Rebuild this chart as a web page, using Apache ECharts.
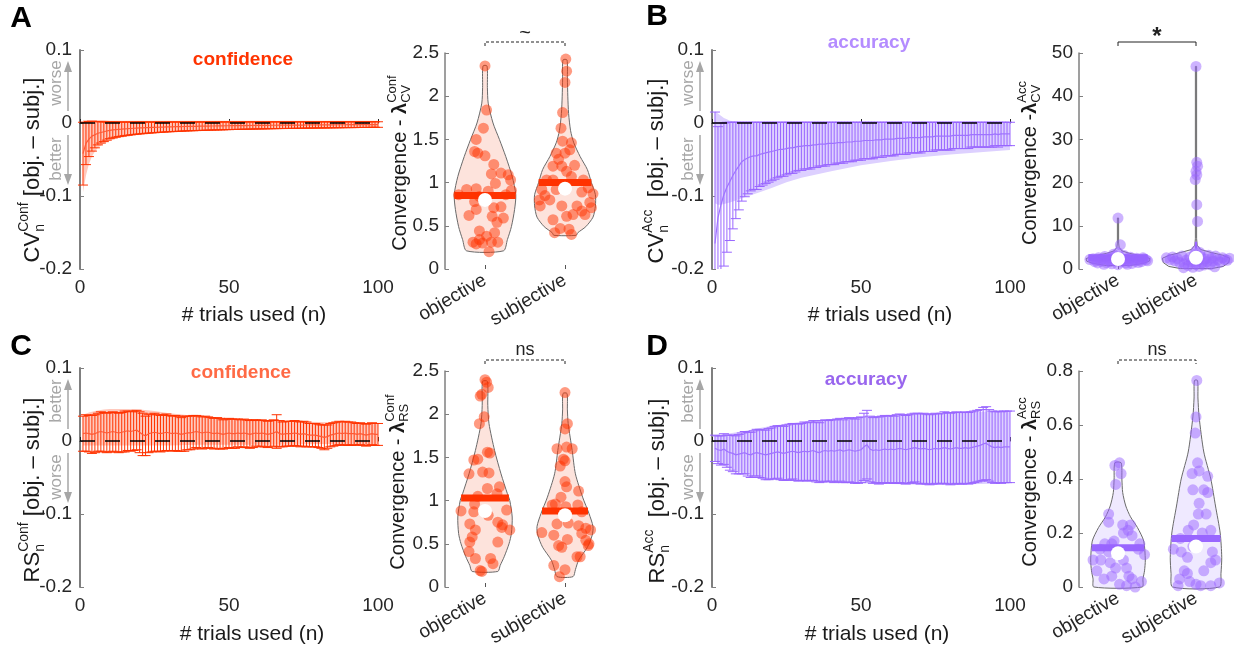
<!DOCTYPE html>
<html><head><meta charset="utf-8">
<script src="https://cdn.jsdelivr.net/npm/echarts@6/dist/echarts.min.js"></script>
<style>html,body{margin:0;padding:0;background:#fff}#c{width:1234px;height:652px}</style>
</head><body><div id="c"></div>
<script>
// ---------------- DATA ----------------
const trialN = Array.from({length: 100}, (_, i) => i + 1);
const lineXTicks = [0, 50, 100];
const violinCats = ['objective', 'subjective'];
const panelLetters = ['A', 'B', 'C', 'D'];
const panelTitles = ['confidence', 'accuracy', 'confidence', 'accuracy'];
const sigTexts = ['~', '*', 'ns', 'ns'];
const sigDashed = [true, false, true, true];

// Panel A : CV confidence (mean and error half-length per n)
const A_mean = [-0.042,-0.028,-0.022,-0.018,-0.016,-0.014,-0.013,-0.012,-0.011,-0.010,
-0.0095,-0.009,-0.0087,-0.0084,-0.008,-0.0078,-0.0075,-0.0072,-0.0070,-0.0068,
-0.0066,-0.0064,-0.0063,-0.0061,-0.0060,-0.0058,-0.0057,-0.0056,-0.0054,-0.0053,
-0.0052,-0.0051,-0.0050,-0.0049,-0.0048,-0.0047,-0.0046,-0.0046,-0.0045,-0.0044,
-0.0043,-0.0043,-0.0042,-0.0041,-0.0041,-0.0040,-0.0040,-0.0039,-0.0038,-0.0038,
-0.0037,-0.0037,-0.0036,-0.0036,-0.0035,-0.0035,-0.0034,-0.0034,-0.0033,-0.0033,
-0.0033,-0.0032,-0.0032,-0.0031,-0.0031,-0.0031,-0.0030,-0.0030,-0.0030,-0.0029,
-0.0029,-0.0029,-0.0028,-0.0028,-0.0028,-0.0027,-0.0027,-0.0027,-0.0026,-0.0026,
-0.0026,-0.0026,-0.0025,-0.0025,-0.0025,-0.0024,-0.0024,-0.0024,-0.0024,-0.0023,
-0.0023,-0.0023,-0.0023,-0.0022,-0.0022,-0.0022,-0.0022,-0.0021,-0.0021,-0.0021];
const A_err = [0.043,0.029,0.024,0.0205,0.018,0.016,0.0145,0.0135,0.0125,0.0115,
0.011,0.0105,0.010,0.0097,0.0094,0.0091,0.0088,0.0086,0.0084,0.0082,
0.0080,0.0078,0.0076,0.0075,0.0073,0.0072,0.0070,0.0069,0.0068,0.0067,
0.0066,0.0065,0.0064,0.0063,0.0062,0.0061,0.0060,0.0060,0.0059,0.0058,
0.0058,0.0057,0.0056,0.0056,0.0055,0.0055,0.0054,0.0054,0.0053,0.0053,
0.0052,0.0052,0.0051,0.0051,0.0050,0.0050,0.0050,0.0049,0.0049,0.0048,
0.0048,0.0048,0.0047,0.0047,0.0047,0.0046,0.0046,0.0046,0.0045,0.0045,
0.0045,0.0045,0.0044,0.0044,0.0044,0.0043,0.0043,0.0043,0.0043,0.0042,
0.0042,0.0042,0.0042,0.0041,0.0041,0.0041,0.0041,0.0040,0.0040,0.0040,
0.0040,0.0040,0.0039,0.0039,0.0039,0.0039,0.0039,0.0038,0.0038,0.0038];
const A_bandN  = [1,2,3,4,5,6,8,10,13,16,20,25,30,40,50,60,70,80,90,100];
const A_bandLo = [-0.095,-0.072,-0.056,-0.046,-0.039,-0.034,-0.028,-0.024,-0.020,-0.017,-0.015,-0.013,-0.012,-0.010,-0.009,-0.0085,-0.008,-0.0075,-0.007,-0.007];
const A_bandHi = [0.004,0.004,0.004,0.004,0.004,0.004,0.004,0.003,0.003,0.003,0.003,0.003,0.003,0.003,0.003,0.003,0.003,0.003,0.003,0.003];

// Panel B : CV accuracy
const B_mean = [-0.165,-0.130,-0.112,-0.098,-0.088,-0.080,-0.072,-0.065,-0.059,-0.053,
-0.050,-0.048,-0.046,-0.045,-0.045,-0.043,-0.042,-0.041,-0.040,-0.039,
-0.038,-0.037,-0.036,-0.036,-0.035,-0.034,-0.034,-0.033,-0.032,-0.032,
-0.031,-0.031,-0.031,-0.030,-0.030,-0.029,-0.029,-0.029,-0.028,-0.028,
-0.028,-0.027,-0.027,-0.027,-0.026,-0.026,-0.026,-0.025,-0.025,-0.025,
-0.024,-0.024,-0.024,-0.024,-0.023,-0.023,-0.023,-0.022,-0.022,-0.022,
-0.022,-0.021,-0.021,-0.021,-0.021,-0.020,-0.020,-0.020,-0.020,-0.020,
-0.019,-0.019,-0.019,-0.019,-0.018,-0.018,-0.018,-0.018,-0.018,-0.018,
-0.017,-0.017,-0.017,-0.017,-0.017,-0.017,-0.016,-0.016,-0.016,-0.016,
-0.016,-0.016,-0.016,-0.016,-0.015,-0.016,-0.015,-0.015,-0.015,-0.015];
const B_err = [0.180,0.125,0.112,0.098,0.089,0.081,0.073,0.066,0.060,0.054,
0.051,0.049,0.047,0.046,0.046,0.044,0.043,0.042,0.041,0.040,
0.039,0.038,0.037,0.037,0.036,0.035,0.035,0.034,0.033,0.033,
0.032,0.032,0.032,0.031,0.031,0.030,0.030,0.030,0.029,0.029,
0.029,0.028,0.028,0.028,0.027,0.027,0.027,0.026,0.026,0.026,
0.025,0.025,0.025,0.025,0.024,0.024,0.024,0.023,0.023,0.023,
0.023,0.022,0.022,0.022,0.022,0.021,0.021,0.021,0.021,0.021,
0.020,0.020,0.020,0.020,0.019,0.019,0.019,0.019,0.019,0.019,
0.018,0.018,0.018,0.018,0.018,0.018,0.017,0.017,0.017,0.017,
0.017,0.017,0.017,0.017,0.016,0.017,0.016,0.016,0.016,0.016];
const B_bandN  = [1,2,3,4,5,6,8,10,13,16,20,25,30,40,50,60,70,80,90,100];
const B_bandLo = [-0.110,-0.112,-0.112,-0.111,-0.110,-0.109,-0.106,-0.103,-0.099,-0.095,-0.089,-0.081,-0.075,-0.066,-0.058,-0.052,-0.047,-0.043,-0.040,-0.037];
const B_bandHi = [0.016,0.013,0.010,0.007,0.005,0.003,0.002,0.001,0.001,0.001,0.001,0.001,0.001,0.001,0.001,0.001,0.001,0.001,0.001,0.001];

// Panel C : RS confidence
const C_mean = [0.010,0.011,0.010,0.009,0.010,0.012,0.013,0.012,0.011,0.012,
0.013,0.012,0.011,0.012,0.013,0.014,0.013,0.014,0.015,0.012,
0.009,0.007,0.010,0.011,0.012,0.011,0.010,0.011,0.012,0.011,
0.010,0.011,0.010,0.009,0.010,0.011,0.011,0.012,0.013,0.012,
0.011,0.012,0.012,0.011,0.010,0.011,0.010,0.009,0.010,0.011,
0.010,0.010,0.011,0.010,0.011,0.010,0.009,0.010,0.011,0.010,
0.011,0.010,0.009,0.010,0.011,0.013,0.010,0.009,0.010,0.010,
0.010,0.011,0.010,0.009,0.010,0.009,0.008,0.008,0.008,0.007,
0.006,0.005,0.006,0.008,0.009,0.010,0.011,0.010,0.011,0.010,
0.010,0.010,0.009,0.010,0.009,0.008,0.009,0.010,0.009,0.009];
const C_err = [0.024,0.025,0.025,0.026,0.026,0.026,0.027,0.027,0.027,0.027,
0.027,0.027,0.027,0.027,0.028,0.027,0.027,0.027,0.027,0.028,
0.029,0.027,0.026,0.026,0.026,0.025,0.025,0.025,0.025,0.024,
0.024,0.024,0.024,0.023,0.024,0.023,0.023,0.023,0.022,0.022,
0.022,0.022,0.021,0.021,0.021,0.021,0.021,0.020,0.020,0.020,
0.020,0.020,0.019,0.019,0.019,0.019,0.019,0.019,0.018,0.018,
0.018,0.018,0.018,0.018,0.018,0.023,0.018,0.017,0.017,0.017,
0.017,0.017,0.017,0.017,0.017,0.017,0.016,0.016,0.016,0.016,
0.016,0.017,0.016,0.016,0.016,0.016,0.016,0.016,0.016,0.016,
0.016,0.015,0.015,0.015,0.015,0.015,0.015,0.015,0.015,0.015];
const C_bandN  = [1,3,5,8,10,13,16,20,25,30,40,50,60,70,80,90,100];
const C_bandHi = [0.036,0.039,0.041,0.043,0.044,0.044,0.044,0.043,0.041,0.038,0.034,0.031,0.029,0.027,0.026,0.025,0.024];
const C_bandLo = [-0.006,-0.006,-0.006,-0.006,-0.006,-0.006,-0.006,-0.006,-0.006,-0.006,-0.005,-0.005,-0.005,-0.005,-0.004,-0.004,-0.004];

// Panel D : RS accuracy
const D_mean = [-0.010,-0.012,-0.013,-0.011,-0.014,-0.016,-0.017,-0.019,-0.018,-0.017,
-0.016,-0.018,-0.019,-0.017,-0.016,-0.017,-0.018,-0.019,-0.018,-0.017,
-0.016,-0.015,-0.016,-0.017,-0.016,-0.015,-0.014,-0.015,-0.016,-0.015,
-0.014,-0.015,-0.014,-0.013,-0.015,-0.016,-0.014,-0.013,-0.014,-0.013,
-0.014,-0.013,-0.012,-0.014,-0.013,-0.012,-0.013,-0.014,-0.013,-0.012,
-0.008,-0.005,-0.011,-0.013,-0.012,-0.013,-0.012,-0.011,-0.012,-0.011,
-0.012,-0.011,-0.010,-0.011,-0.012,-0.011,-0.010,-0.009,-0.010,-0.011,
-0.010,-0.011,-0.012,-0.011,-0.010,-0.011,-0.010,-0.009,-0.010,-0.011,
-0.010,-0.009,-0.010,-0.010,-0.009,-0.010,-0.009,-0.008,-0.007,-0.006,
-0.004,-0.003,-0.006,-0.008,-0.009,-0.008,-0.009,-0.008,-0.008,-0.008];
const D_err = [0.018,0.019,0.020,0.021,0.022,0.024,0.025,0.026,0.027,0.028,
0.029,0.030,0.031,0.031,0.032,0.033,0.033,0.034,0.035,0.035,
0.036,0.036,0.037,0.037,0.038,0.038,0.038,0.039,0.039,0.039,
0.040,0.040,0.040,0.041,0.041,0.041,0.042,0.042,0.042,0.042,
0.043,0.043,0.043,0.043,0.044,0.044,0.044,0.044,0.045,0.045,
0.046,0.047,0.045,0.045,0.045,0.046,0.046,0.046,0.046,0.046,
0.046,0.047,0.047,0.047,0.047,0.047,0.047,0.047,0.048,0.048,
0.048,0.048,0.048,0.048,0.048,0.048,0.048,0.049,0.049,0.049,
0.049,0.049,0.049,0.049,0.049,0.049,0.049,0.049,0.049,0.049,
0.050,0.050,0.049,0.049,0.049,0.049,0.049,0.049,0.049,0.049];
const D_bandN  = [1,5,10,20,30,40,50,60,70,80,90,100];
const D_bandHi = [0.008,0.010,0.013,0.021,0.026,0.030,0.033,0.035,0.037,0.038,0.040,0.041];
const D_bandLo = [-0.028,-0.036,-0.044,-0.052,-0.055,-0.057,-0.058,-0.059,-0.060,-0.060,-0.059,-0.058];

// Violin data: points [jitter, value], outline [value, half-width], mean bar, median dot
const A_objPts = [[0,2.35],[0.02,1.84],[-0.02,1.63],[-0.11,1.50],[-0.13,1.36],[-0.09,1.34],[0,1.31],[0.11,1.21],[0.2,1.11],[0.29,1.09],[0.32,1.03],[0.08,1.10],[0.13,0.99],[-0.11,0.93],[-0.23,0.92],[-0.33,0.86],[-0.07,0.84],[0.04,0.90],[0.33,0.91],[0.26,0.86],[-0.13,0.78],[-0.11,0.69],[0.11,0.71],[0.09,0.61],[0.15,0.54],[0.23,0.59],[-0.07,0.44],[-0.07,0.34],[0.02,0.38],[0.12,0.42],[-0.15,0.31],[-0.11,0.29],[-0.03,0.30],[0.08,0.31],[0.16,0.31],[0.05,0.20],[-0.2,0.62],[0.2,0.72]];
const A_subPts = [[0.01,2.43],[0.02,2.29],[0,2.16],[-0.03,1.81],[-0.05,1.63],[-0.03,1.48],[0.08,1.46],[0.06,1.38],[-0.11,1.34],[0,1.34],[-0.08,1.27],[-0.15,1.19],[-0.04,1.19],[0.02,1.13],[0.08,1.07],[-0.23,1.03],[-0.15,1.03],[0.23,1.03],[-0.29,0.92],[-0.11,0.92],[0.29,0.94],[0.21,0.89],[0.35,0.87],[-0.32,0.80],[-0.19,0.80],[-0.31,0.73],[-0.04,0.73],[0.15,0.73],[0.31,0.77],[0.33,0.71],[0.21,0.67],[0.25,0.63],[-0.15,0.57],[0.02,0.61],[0.1,0.63],[-0.06,0.47],[0.05,0.46],[-0.13,0.42],[0.08,0.40],[-0.25,0.85],[0.12,1.2]];
const A_objOutline = [[0.21,0.23],[0.34,0.28],[0.49,0.33],[0.69,0.37],[0.86,0.385],[1.07,0.34],[1.3,0.26],[1.5,0.18],[1.69,0.1],[1.92,0.04],[2.1,0.03],[2.35,0.025]];
const A_subOutline = [[0.39,0.14],[0.42,0.16],[0.49,0.26],[0.6,0.35],[0.73,0.38],[0.86,0.38],[1.0,0.33],[1.15,0.28],[1.3,0.19],[1.46,0.11],[1.6,0.07],[1.8,0.045],[2.0,0.035],[2.2,0.03],[2.42,0.025]];
const A_means = [0.85, 1.00];
const A_medians = [0.80, 0.93];

const B_objPts = [[-0.36,2.2],[-0.32,2.4],[-0.28,2.0],[-0.25,2.6],[-0.22,1.8],[-0.2,2.3],[-0.17,2.9],[-0.15,1.5],[-0.13,2.1],[-0.1,2.6],[-0.08,1.2],[-0.06,3.4],[-0.04,1.9],[-0.02,2.5],[0.0,1.0],[0.02,2.8],[0.04,1.6],[0.06,2.2],[0.08,3.1],[0.1,1.4],[0.12,2.4],[0.14,1.9],[0.16,2.7],[0.18,1.3],[0.2,2.2],[0.22,1.8],[0.24,2.5],[0.27,2.0],[0.3,1.7],[0.33,2.3],[0.36,2.1],[0.38,1.9],[-0.3,1.7],[-0.1,1.7],[0.0,3.8],[0.03,5.6],[0.0,11.8],[0.12,1.1],[-0.18,1.1],[0.26,1.5],[0.32,2.6],[-0.26,1.4],[0.09,2.0],[-0.05,2.9]];
const B_subPts = [[-0.38,2.6],[-0.33,2.2],[-0.3,2.8],[-0.27,1.9],[-0.24,2.4],[-0.21,1.5],[-0.18,3.0],[-0.15,1.2],[-0.12,2.1],[-0.1,0.8],[-0.08,2.7],[-0.06,1.6],[-0.04,0.4],[-0.02,3.4],[0.0,1.1],[0.02,2.0],[0.04,0.6],[0.06,2.9],[0.08,1.4],[0.1,0.9],[0.12,2.3],[0.14,1.7],[0.16,3.2],[0.18,1.0],[0.2,2.5],[0.22,1.8],[0.25,3.0],[0.28,2.1],[0.31,1.6],[0.34,2.6],[0.37,2.2],[0.4,2.0],[0.43,2.5],[0.0,4.2],[0.02,11.0],[0.01,14.9],[-0.01,20.7],[0.01,21.8],[0.0,22.6],[0.02,23.8],[0.01,24.7],[0.0,46.9],[-0.16,0.3],[0.24,0.5],[0.05,3.8]];
const B_objOutline = [[0.8,0.15],[1.3,0.32],[1.8,0.4],[2.4,0.41],[3.0,0.32],[3.6,0.15],[4.2,0.05],[5.0,0.015],[6.0,0.008],[11.8,0.008]];
const B_subOutline = [[0.1,0.2],[0.6,0.35],[1.5,0.42],[2.5,0.43],[3.2,0.34],[3.8,0.2],[4.5,0.06],[5.5,0.015],[7,0.008],[46.9,0.008]];
const B_means = [2.6, 5.5];
const B_medians = [2.3, 2.6];

const C_objPts = [[0,2.40],[0.02,2.37],[0.04,2.31],[-0.06,2.21],[-0.04,2.23],[-0.01,1.97],[-0.07,1.89],[0.03,1.56],[0.06,1.55],[-0.14,1.47],[-0.09,1.48],[-0.2,1.31],[-0.03,1.33],[0.05,1.32],[0.03,1.14],[0.18,1.16],[0.15,1.08],[-0.09,1.05],[-0.13,0.96],[-0.3,0.88],[-0.14,0.87],[0.04,0.83],[0.27,0.89],[0.16,0.75],[0.21,0.69],[0.31,0.66],[-0.19,0.73],[-0.12,0.66],[-0.16,0.58],[-0.19,0.52],[0.16,0.52],[-0.2,0.41],[-0.12,0.33],[0.07,0.33],[0.1,0.27],[-0.06,0.19],[-0.04,0.18],[0.22,0.72]];
const C_subPts = [[0,2.25],[0.03,1.89],[0,1.83],[0.02,1.62],[-0.1,1.60],[0.09,1.60],[-0.02,1.48],[0,1.46],[-0.06,1.40],[0,1.22],[0.02,1.16],[0.17,1.11],[-0.05,1.04],[-0.12,0.96],[-0.16,0.95],[0.16,0.95],[0.01,0.93],[0.21,0.87],[-0.1,0.73],[0.04,0.74],[0.17,0.71],[0.26,0.68],[0.32,0.66],[-0.29,0.63],[-0.14,0.60],[0.21,0.62],[0.26,0.54],[0.03,0.55],[-0.08,0.48],[-0.04,0.46],[0.29,0.48],[0.15,0.35],[0.19,0.35],[-0.14,0.25],[0,0.20],[-0.07,0.12],[0.3,0.5]];
const C_objOutline = [[0.18,0.16],[0.25,0.19],[0.35,0.24],[0.5,0.3],[0.62,0.33],[0.81,0.34],[1.0,0.31],[1.08,0.28],[1.31,0.2],[1.58,0.12],[1.89,0.05],[2.1,0.035],[2.38,0.03]];
const C_subOutline = [[0.12,0.1],[0.2,0.13],[0.31,0.17],[0.46,0.28],[0.6,0.34],[0.7,0.35],[0.85,0.3],[1.04,0.22],[1.31,0.13],[1.58,0.09],[1.89,0.04],[2.05,0.03],[2.24,0.025]];
const C_means = [1.03, 0.88];
const C_medians = [0.88, 0.83];

const D_objPts = [[0.02,0.46],[-0.04,0.45],[0.04,0.42],[-0.03,0.38],[-0.12,0.27],[-0.12,0.24],[0.06,0.23],[0.16,0.23],[0.13,0.21],[0.07,0.20],[-0.08,0.16],[-0.17,0.16],[-0.05,0.17],[0.18,0.19],[0.28,0.16],[0.26,0.14],[-0.23,0.14],[-0.32,0.10],[-0.22,0.10],[-0.12,0.13],[-0.1,0.09],[0.07,0.10],[-0.27,0.06],[-0.18,0.03],[-0.08,0.04],[0.02,0.01],[0.11,0.005],[0.14,0.04],[0.18,0.03],[0.22,0.0],[0.11,0.07],[0.34,0.12],[-0.03,0.07],[0.3,0.02]];
const D_subPts = [[0.01,0.765],[0.0,0.63],[-0.01,0.57],[0.02,0.46],[-0.05,0.42],[0.04,0.43],[0.15,0.41],[-0.04,0.36],[0.1,0.36],[0.15,0.35],[0.04,0.31],[0.13,0.27],[0.03,0.27],[-0.03,0.23],[0.19,0.21],[0.08,0.20],[-0.1,0.21],[-0.29,0.14],[-0.19,0.13],[-0.11,0.11],[-0.04,0.15],[0.21,0.13],[0.19,0.09],[-0.15,0.06],[-0.11,0.05],[0.1,0.06],[-0.21,0.03],[-0.08,0.02],[0.0,0.01],[0.06,0.005],[0.3,0.015],[-0.23,0.005],[0.19,0.005],[0.25,0.1],[-0.2,0.18]];
const D_objOutline = [[0.0,0.31],[0.03,0.32],[0.06,0.34],[0.1,0.35],[0.17,0.33],[0.22,0.25],[0.26,0.16],[0.3,0.1],[0.35,0.06],[0.4,0.05],[0.46,0.04]];
const D_subOutline = [[0.0,0.3],[0.05,0.32],[0.11,0.33],[0.2,0.31],[0.3,0.25],[0.4,0.19],[0.5,0.1],[0.63,0.04],[0.7,0.025],[0.765,0.02]];
const D_means = [0.145, 0.18];
const D_medians = [0.125, 0.15];

const violinYMax = [2.5, 50, 2.5, 0.8];
const violinYInterval = [0.5, 10, 0.5, 0.2];

// ---------------- STYLE / LAYOUT ----------------
const FONT = '"Liberation Sans", Arial, Helvetica, sans-serif';
const RED = {bar:'#ff3300', mean:'#ff5a36', band:'#ffc9bd', pt:'rgba(255,51,0,0.62)', vfill:'#fde3dc'};
const PUR = {bar:'#9966ff', mean:'#9f74ff', band:'#ddd0ff', pt:'rgba(153,102,255,0.62)', vfill:'#efe9ff'};
const titleColors = ['#ff3300', '#b48cff', '#ff6a45', '#9966ee'];
const lineGrids = [{left:80, top:50}, {left:712, top:50}, {left:80, top:368}, {left:712, top:368}];
const vioGrids = [{left:445, top:53, width:160}, {left:1079, top:53, width:156}, {left:445, top:371, width:160}, {left:1079, top:371, width:156}];

const panels = [
  {mean:A_mean, err:A_err, bN:A_bandN, bLo:A_bandLo, bHi:A_bandHi, col:RED,
   pts:[A_objPts, A_subPts], outl:[A_objOutline, A_subOutline], means:A_means, meds:A_medians},
  {mean:B_mean, err:B_err, bN:B_bandN, bLo:B_bandLo, bHi:B_bandHi, col:PUR,
   pts:[B_objPts, B_subPts], outl:[B_objOutline, B_subOutline], means:B_means, meds:B_medians},
  {mean:C_mean, err:C_err, bN:C_bandN, bLo:C_bandLo, bHi:C_bandHi, col:RED,
   pts:[C_objPts, C_subPts], outl:[C_objOutline, C_subOutline], means:C_means, meds:C_medians},
  {mean:D_mean, err:D_err, bN:D_bandN, bLo:D_bandLo, bHi:D_bandHi, col:PUR,
   pts:[D_objPts, D_subPts], outl:[D_objOutline, D_subOutline], means:D_means, meds:D_medians}
];

const Y_MIN = -0.2, Y_MAX = 0.1, CAP = 5;
const AX = '#262626';

function widthAt(outline, y) {
  for (let i = 0; i < outline.length - 1; i++) {
    const a = outline[i], b = outline[i + 1];
    if (y >= a[0] && y <= b[0]) return a[1] + (b[1] - a[1]) * (y - a[0]) / (b[0] - a[0]);
  }
  return 0;
}

const grids = [], xAxes = [], yAxes = [], series = [];
const axisLabelBase = {color: AX, fontSize: 19, fontFamily: FONT};

panels.forEach((P, i) => {
  const lg = lineGrids[i], vg = vioGrids[i];
  const li = 2 * i, vi = 2 * i + 1;
  grids[li] = {left: lg.left, top: lg.top, width: 298, height: 219, outerBoundsMode: 'none', containLabel: false};
  grids[vi] = {left: vg.left, top: vg.top, width: vg.width, height: 216, outerBoundsMode: 'none', containLabel: false};
  xAxes[li] = {type: 'value', gridIndex: li, min: 0, max: 100, interval: 50,
    axisLine: {lineStyle: {color: AX, width: 1}}, axisTick: {inside: true, length: 4, lineStyle: {color: AX}},
    axisLabel: Object.assign({margin: 9}, axisLabelBase), splitLine: {show: false}};
  yAxes[li] = {type: 'value', gridIndex: li, min: Y_MIN, max: Y_MAX, interval: 0.1,
    axisLine: {show: true, lineStyle: {color: '#7f7f7f', width: 2}}, axisTick: {show: true, inside: true, length: 4, lineStyle: {color: '#7f7f7f'}},
    axisLabel: Object.assign({margin: 8, formatter: v => String(Math.round(v * 10) / 10)}, axisLabelBase), splitLine: {show: false}};
  xAxes[vi] = {type: 'value', gridIndex: vi, min: 0.5, max: 2.5,
    axisLine: {show: false}, axisTick: {show: true, inside: true, length: 4, customValues: [1, 2], lineStyle: {color: '#555'}},
    axisLabel: Object.assign({customValues: [1, 2], rotate: 30, margin: 10, formatter: v => violinCats[Math.round(v) - 1]}, axisLabelBase),
    splitLine: {show: false}};
  yAxes[vi] = {type: 'value', gridIndex: vi, min: 0, max: violinYMax[i], interval: violinYInterval[i],
    axisLine: {show: true, lineStyle: {color: '#7f7f7f', width: 1.5}}, axisTick: {show: true, inside: true, length: 4, lineStyle: {color: '#7f7f7f'}},
    axisLabel: Object.assign({margin: 6, formatter: v => String(Math.round(v * 100) / 100)}, axisLabelBase), splitLine: {show: false}};

  // band
  series.push({type: 'custom', xAxisIndex: li, yAxisIndex: li, z: 1, silent: true, clip: false,
    data: P.bN.map((n, k) => [n, P.bLo[k], P.bHi[k]]), encode: {x: 0, y: 1},
    renderItem: (params, api) => {
      if (params.dataIndex !== 0) return null;
      const top = P.bN.map((n, k) => api.coord([n, P.bHi[k]]));
      const bot = P.bN.map((n, k) => api.coord([n, P.bLo[k]])).reverse();
      return {type: 'polygon', shape: {points: top.concat(bot)}, style: {fill: P.col.band}};
    }});
  // error bars
  series.push({type: 'custom', xAxisIndex: li, yAxisIndex: li, z: 2, silent: true, clip: false,
    data: trialN.map((n, k) => [n, P.mean[k], P.err[k]]), encode: {x: 0, y: 1},
    renderItem: (params, api) => {
      const n = api.value(0), m = api.value(1), e = api.value(2);
      const hi = m + e, lo = m - e;
      const pH = api.coord([n, Math.min(hi, Y_MAX)]), pL = api.coord([n, Math.max(lo, Y_MIN)]);
      const st = {stroke: P.col.bar, lineWidth: 1};
      const ch = [{type: 'line', shape: {x1: pH[0], y1: pH[1], x2: pL[0], y2: pL[1]}, style: st}];
      if (hi <= Y_MAX) ch.push({type: 'line', shape: {x1: pH[0] - CAP, y1: pH[1], x2: pH[0] + CAP, y2: pH[1]}, style: st});
      if (lo >= Y_MIN) ch.push({type: 'line', shape: {x1: pL[0] - CAP, y1: pL[1], x2: pL[0] + CAP, y2: pL[1]}, style: st});
      return {type: 'group', children: ch};
    }});
  // mean line
  series.push({type: 'line', xAxisIndex: li, yAxisIndex: li, z: 3, silent: true, symbol: 'none',
    data: trialN.map((n, k) => [n, P.mean[k]]), lineStyle: {color: P.col.mean, width: 1.2}});
  // zero line
  series.push({type: 'line', xAxisIndex: li, yAxisIndex: li, z: 5, silent: true, symbol: 'none',
    data: [[0, 0], [100, 0]], lineStyle: {color: '#000', width: 1.3, type: [15, 10]}});

  // violins
  [0, 1].forEach(g => {
    const c = g + 1, outline = P.outl[g];
    series.push({type: 'custom', xAxisIndex: vi, yAxisIndex: vi, z: 1, silent: true, clip: false,
      data: outline.map(o => [c, o[0]]), encode: {x: 0, y: 1},
      renderItem: (params, api) => {
        if (params.dataIndex !== 0) return null;
        const left = outline.map(o => api.coord([c - o[1], o[0]]));
        const right = outline.slice().reverse().map(o => api.coord([c + o[1], o[0]]));
        return {type: 'polygon', shape: {points: left.concat(right), smooth: i === 1 ? 0 : 0.25},
          style: {fill: P.col.vfill, stroke: '#6a6a6a', lineWidth: 1}};
      }});
    const mv = P.means[g], hw = widthAt(outline, mv);
    series.push({type: 'custom', xAxisIndex: vi, yAxisIndex: vi, z: 2, silent: true, clip: false,
      data: [[c, mv]], encode: {x: 0, y: 1},
      renderItem: (params, api) => {
        const a = api.coord([c - hw, mv]), b = api.coord([c + hw, mv]);
        return {type: 'line', shape: {x1: a[0], y1: a[1], x2: b[0], y2: b[1]}, style: {stroke: P.col.bar, lineWidth: 7}};
      }});
    series.push({type: 'scatter', xAxisIndex: vi, yAxisIndex: vi, z: 3, silent: true, symbolSize: 11,
      data: P.pts[g].map(p => [c + p[0], p[1]]), itemStyle: {color: P.col.pt, borderWidth: 0}});
    series.push({type: 'scatter', xAxisIndex: vi, yAxisIndex: vi, z: 4, silent: true, symbolSize: 14,
      data: [[c, P.meds[g]]], itemStyle: {color: '#fff', opacity: 1, borderWidth: 0}});
  });
  // significance bracket
  const ymax = violinYMax[i];
  series.push({type: 'custom', xAxisIndex: vi, yAxisIndex: vi, z: 5, silent: true, clip: false,
    data: [[1.5, ymax]], encode: {x: 0, y: 1},
    renderItem: (params, api) => {
      const p1 = api.coord([1, ymax]), p2 = api.coord([2, ymax]);
      const y = p1[1] - 11;
      const s = sigTexts[i];
      const font = s === '*' ? 'bold 24px ' + FONT : (s === '~' ? '20px ' + FONT : '18px ' + FONT);
      const ty = s === '*' ? y + 7 : (s === '~' ? y + 1 : y - 1);
      return {type: 'group', children: [
        {type: 'polyline', shape: {points: [[p1[0], y + 4], [p1[0], y], [p2[0], y], [p2[0], y + 4]]},
          style: {stroke: '#222', lineWidth: 1, fill: null, lineDash: sigDashed[i] ? [3, 2] : null}},
        {type: 'text', x: (p1[0] + p2[0]) / 2, y: ty,
          style: {text: s, font: font, fill: '#222',
            textAlign: 'center', textVerticalAlign: 'bottom', align: 'center', verticalAlign: 'bottom'}}
      ]};
    }});
});

// ---------------- TEXT GRAPHICS ----------------
const mctx = document.createElement('canvas').getContext('2d');
function textW(t, font) { mctx.font = font; return mctx.measureText(t).width; }
function rotLabel(cx, cy, tokens, MAIN, SMALL) {
  const items = [];
  let x = 0;
  tokens.forEach(tok => {
    if (tok.t !== undefined) {
      const font = (tok.bold ? 'bold ' : '') + MAIN + 'px ' + FONT;
      items.push({text: tok.t, font, x, y: 0});
      x += textW(tok.t, font);
    } else {
      const font = SMALL + 'px ' + FONT;
      items.push({text: tok.sup, font, x, y: -Math.round(MAIN * 0.4)});
      items.push({text: tok.sub, font, x, y: Math.round(MAIN * 0.3)});
      x += Math.max(textW(tok.sup, font), textW(tok.sub, font));
    }
  });
  const W = x;
  return {type: 'group', x: cx, y: cy, rotation: Math.PI / 2, silent: true,
    children: items.map(it => ({type: 'text', x: it.x - W / 2, y: it.y,
      style: {text: it.text, font: it.font, fill: '#1a1a1a', textAlign: 'left', textVerticalAlign: 'middle', align: 'left', verticalAlign: 'middle'}}))};
}
function plainText(x, y, text, font, fill, rot) {
  return {type: 'text', x, y, rotation: rot || 0, silent: true,
    style: {text, font, fill, textAlign: 'center', textVerticalAlign: 'middle', align: 'center', verticalAlign: 'middle'}};
}
function arrow(x, y1, y2, color) {
  const d = Math.sign(y2 - y1);
  return [
    {type: 'line', silent: true, shape: {x1: x, y1: y1, x2: x, y2: y2 - d * 8}, style: {stroke: color, lineWidth: 1.5}},
    {type: 'polygon', silent: true, shape: {points: [[x - 4, y2 - d * 11], [x + 4, y2 - d * 11], [x, y2]]}, style: {fill: color}}
  ];
}

const graphics = [];
const letterPos = [[21, 19], [657, 17], [21, 347], [657, 347]];
const titlePos = [[243, 60], [869, 43], [241, 373], [866, 380]];
const xNamePos = [[254, 315], [880, 315], [252, 634], [877, 634]];
const yLabelPos = [[33, 170], [657, 171], [33, 490], [658, 491]];
const vLabelPos = [[400, 163], [1030, 163], [398, 482], [1030, 482]];
const measureNames = ['CV', 'CV', 'RS', 'RS'];
const measureSups = ['Conf', 'Acc', 'Conf', 'Acc'];
const lambdaSubs = ['CV', 'CV', 'RS', 'RS'];
const GRAY = '#a6a6a6';

for (let i = 0; i < 4; i++) {
  graphics.push(plainText(letterPos[i][0], letterPos[i][1], panelLetters[i], 'bold 30px ' + FONT, '#000'));
  graphics.push(plainText(titlePos[i][0], titlePos[i][1], panelTitles[i], 'bold 19px ' + FONT, titleColors[i]));
  graphics.push(plainText(xNamePos[i][0], xNamePos[i][1], '# trials used (n)', '21px ' + FONT, '#1a1a1a'));
  graphics.push(rotLabel(yLabelPos[i][0], yLabelPos[i][1], [
    {t: measureNames[i]}, {sup: measureSups[i], sub: 'n'}, {t: (i % 2 ? '  ' : ' ') + '[obj. \u2013 subj.]'}], 22, 14));
  graphics.push(rotLabel(vLabelPos[i][0], vLabelPos[i][1], [
    {t: i === 1 ? 'Convergence -' : 'Convergence - '}, {t: '\u03bb', bold: true}, {sup: measureSups[i], sub: lambdaSubs[i]}], 20, 13));
  // better / worse annotations
  const ax = lineGrids[i].left, y0 = lineGrids[i].top + 73;
  const upper = i < 2 ? 'worse' : 'better', lower = i < 2 ? 'better' : 'worse';
  graphics.push(plainText(ax - 24, y0 - 40, upper, '17px ' + FONT, GRAY, Math.PI / 2));
  graphics.push(plainText(ax - 24, y0 + 36, lower, '17px ' + FONT, GRAY, Math.PI / 2));
  arrow(ax - 12, y0 - 12, y0 - 62, GRAY).forEach(e => graphics.push(e));
  arrow(ax - 12, y0 + 12, y0 + 62, GRAY).forEach(e => graphics.push(e));
}

const chart = echarts.init(document.getElementById('c'), null, {renderer: 'canvas', width: 1234, height: 652});
chart.setOption({
  animation: false,
  backgroundColor: '#fff',
  grid: grids, xAxis: xAxes, yAxis: yAxes, series: series,
  graphic: {elements: graphics}
});
</script></body></html>
